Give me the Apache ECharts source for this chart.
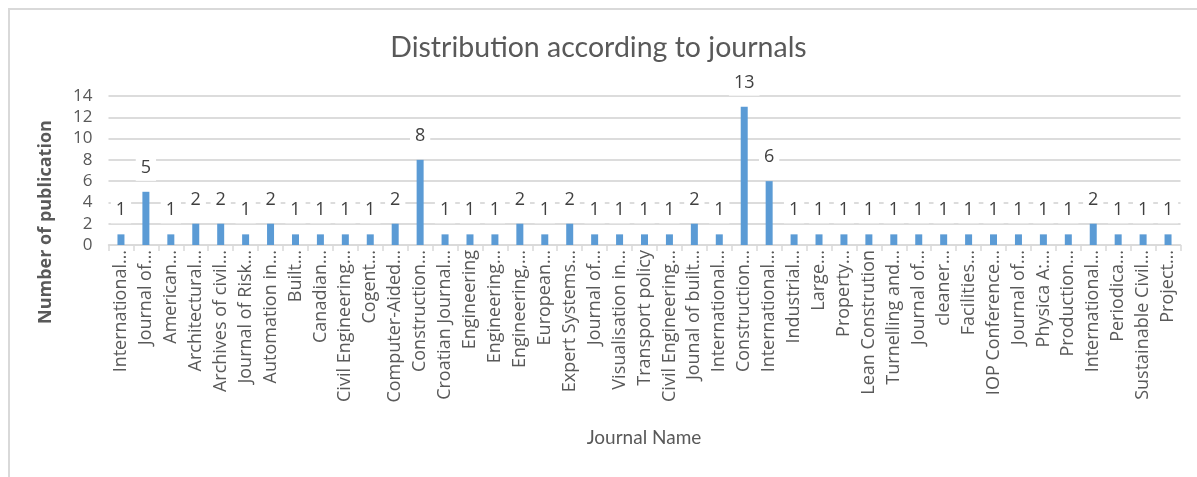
<!DOCTYPE html>
<html>
<head>
<meta charset="utf-8">
<script src="https://cdn.jsdelivr.net/npm/echarts@6/dist/echarts.min.js"></script>
<style>
  html, body { margin: 0; padding: 0; background: #fff; }
  #frame {
    position: absolute; left: 8px; top: 8px; right: 0; bottom: 0;
    border-top: 2px solid #d9d9d9; border-left: 2px solid #d9d9d9;
  }
  #chart { position: absolute; left: 0; top: 0; width: 1197px; height: 477px; }
</style>
</head>
<body>
<div id="frame"></div>
<div id="chart"></div>
<script>
// Journal names (as shown, truncated) and publication counts
const journals = [
  'International…', 'Journal of…', 'American…', 'Architectural…', 'Archives of civil…',
  'Journal of Risk…', 'Automation in…', 'Built…', 'Canadian…', 'Civil Engineering…',
  'Cogent…', 'Computer-Aided…', 'Construction…', 'Croatian Journal…', 'Engineering',
  'Engineering…', 'Engineering,…', 'European…', 'Expert Systems…', 'Journal of…',
  'Visualisation in…', 'Transport policy', 'Civil Engineering…', 'Jounal of built…', 'International…',
  'Construction…', 'International…', 'Industrial…', 'Large…', 'Property…',
  'Lean Constrution', 'Turnelling and…', 'Journal of…', 'cleaner…', 'Facilities…',
  'IOP Conference…', 'Journal of…', 'Physica A:…', 'Production…', 'International…',
  'Periodica…', 'Sustainable Civil…', 'Project…'
];
const publications = [
  1, 5, 1, 2, 2,
  1, 2, 1, 1, 1,
  1, 2, 8, 1, 1,
  1, 2, 1, 2, 1,
  1, 1, 1, 2, 1,
  13, 6, 1, 1, 1,
  1, 1, 1, 1, 1,
  1, 1, 1, 1, 2,
  1, 1, 1
];
const yTicks = { min: 0, max: 14, step: 2 };

const textColor = '#595959';
const chart = echarts.init(document.getElementById('chart'));
chart.setOption({
  animation: false,
  title: {
    text: 'Distribution according to journals',
    left: 'center', top: 28,
    textStyle: { fontFamily: 'Lato', fontSize: 28.5, fontWeight: 'normal', color: textColor }
  },
  grid: { left: 108.5, right: 16.5, top: 96, bottom: 232, containLabel: false },
  xAxis: {
    type: 'category',
    data: journals,
    axisLine: { lineStyle: { color: '#d9d9d9', width: 1.5 } },
    axisTick: { show: true, length: 6, lineStyle: { color: '#d9d9d9', width: 1.5 } },
    axisLabel: {
      interval: 0, rotate: 90, margin: 5,
      fontFamily: 'Open Sans', fontSize: 18, color: textColor
    }
  },
  yAxis: {
    type: 'value',
    min: yTicks.min, max: yTicks.max, interval: yTicks.step,
    axisLine: { show: false },
    axisTick: { show: false },
    axisLabel: { margin: 16, fontFamily: 'Open Sans', fontSize: 17, color: textColor },
    splitLine: { lineStyle: { color: '#dcdcdc', width: 2 } }
  },
  series: [{
    type: 'bar',
    data: publications,
    barWidth: 7,
    itemStyle: { color: '#5b9bd5' },
    label: {
      show: true, position: 'top', distance: 11,
      fontFamily: 'Open Sans', fontSize: 18, color: '#404040',
      backgroundColor: '#fff', padding: [4, 5]
    }
  }],
  graphic: [
    {
      type: 'text', x: 644, y: 438,
      style: {
        text: 'Journal Name', font: '19px Lato', fill: textColor,
        align: 'center', verticalAlign: 'middle'
      }
    },
    {
      type: 'text', x: 46, y: 222, rotation: Math.PI / 2,
      style: {
        text: 'Number of publication', font: 'bold 18px "Open Sans"', fill: textColor,
        align: 'center', verticalAlign: 'middle'
      }
    }
  ]
});
</script>
</body>
</html>
